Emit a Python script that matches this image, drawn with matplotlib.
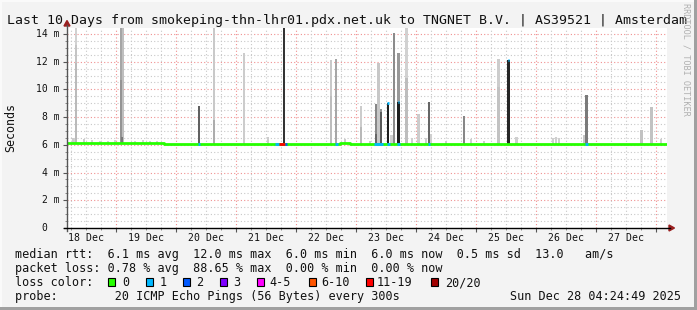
import numpy as np
import matplotlib
matplotlib.use('Agg')
import matplotlib.pyplot as plt
from matplotlib.patches import Rectangle, Polygon
from matplotlib.lines import Line2D
from matplotlib import transforms

W, H = 697, 310
MONO = 'DejaVu Sans Mono'

# ---------------- data ----------------
title = "Last 10 Days from smokeping-thn-lhr01.pdx.net.uk to TNGNET B.V. | AS39521 | Amsterdam"
start_hour = 4 + 24 / 60 + 49 / 3600          # graph starts Dec 18 04:24:49, spans 10 days
x_labels = ["18 Dec", "19 Dec", "20 Dec", "21 Dec", "22 Dec",
            "23 Dec", "24 Dec", "25 Dec", "26 Dec", "27 Dec"]
y_ticks = [0, 2, 4, 6, 8, 10, 12, 14]
y_labels = ["0", "2 m", "4 m", "6 m", "8 m", "10 m", "12 m", "14 m"]
y_max = 14.43

# median rtt (ms), step values, x in days since start
median_day = [0.0, 0.68, 0.77, 1.35, 1.55, 1.62, 2.13, 2.5, 3.0, 3.4, 3.7, 4.2,
              4.55, 4.72, 5.3, 6.0, 6.5, 7.0, 7.5, 8.0, 8.5, 9.0, 9.5, 10.0]
median_ms = [6.12, 6.16, 6.12, 6.15, 6.12, 6.05, 6.07, 6.08, 6.09, 6.07, 6.08, 6.07,
             6.11, 6.07, 6.06, 6.07, 6.06, 6.07, 6.08, 6.06, 6.08, 6.06, 6.08, 6.07]

# smoke (ping spread) columns: day, top (ms), darkness 0..1
smoke_day = [0.100, 0.133, 0.150, 0.150, 0.150, 0.283,
             0.417, 0.550, 0.683, 0.800, 1.133, 1.267, 1.383, 1.500,
             0.900, 0.933, 0.900, 0.917,
             2.200, 2.450, 2.450, 2.950, 3.350, 3.617,
             4.400, 4.400, 4.483, 4.633, 4.900, 4.900, 5.050,
             5.150, 5.150, 5.192, 5.233, 5.233, 5.350, 5.408, 5.450,
             5.525, 5.525, 5.658, 5.658, 5.750, 5.858, 5.983, 6.033, 6.067,
             6.317, 6.617, 6.733, 6.950, 7.192, 7.192, 7.358, 7.492,
             8.100, 8.150, 8.200, 8.617, 8.658, 9.575, 9.742, 9.900]
smoke_top = [6.5, 6.4, 14.45, 13.2, 11.9, 6.4,
             6.35, 6.3, 6.3, 6.35, 6.3, 6.35, 6.3, 6.3,
             14.45, 14.45, 10.7, 6.6,
             8.8, 14.45, 7.8, 12.6, 6.6, 14.45,
             12.1, 9.5, 12.2, 6.4, 8.8, 7.3, 6.3,
             8.95, 6.8, 11.9, 8.6, 8.4, 9.0, 6.7, 14.1,
             12.6, 9.1, 14.45, 10.8, 6.5, 8.2, 6.5, 9.1, 6.8,
             6.3, 8.1, 6.4, 6.3, 12.2, 10.2, 12.1, 6.6,
             6.5, 6.6, 6.5, 6.7, 9.6, 7.1, 8.7, 6.4]
smoke_dark = [0.20, 0.18, 0.18, 0.23, 0.27, 0.20,
              0.17, 0.17, 0.17, 0.17, 0.17, 0.17, 0.17, 0.17,
              0.35, 0.25, 0.42, 0.52,
              0.62, 0.21, 0.32, 0.20, 0.20, 0.80,
              0.21, 0.26, 0.35, 0.20, 0.20, 0.28, 0.20,
              0.47, 0.60, 0.22, 0.42, 0.65, 0.88, 0.19, 0.45,
              0.40, 0.88, 0.18, 0.26, 0.19, 0.20, 0.19, 0.60, 0.19,
              0.19, 0.47, 0.19, 0.19, 0.20, 0.24, 0.85, 0.19,
              0.19, 0.19, 0.19, 0.22, 0.52, 0.24, 0.24, 0.19]

# loss coloured parts of the median line: start day, end day, loss class index
loss_start = [2.183, 3.467, 3.533, 3.633, 4.467, 5.117, 5.333, 5.500, 6.017, 8.633]
loss_end = [2.217, 3.533, 3.633, 3.667, 4.517, 5.267, 5.383, 5.550, 6.050, 8.683]
loss_class = [1, 1, 6, 2, 1, 1, 1, 1, 1, 1]
# median excursions (short bins with high median)
cap_day = [5.350, 5.525, 7.358]
cap_ms = [9.0, 9.1, 12.1]
cap_class = [1, 1, 1]

loss_labels = ["0", "1", "2", "3", "4-5", "6-10", "11-19", "20/20"]
loss_colors = ["#26ff00", "#00b8ff", "#0059ff", "#7e00ff",
               "#ff00ff", "#ff5500", "#ff0000", "#a10000"]

stats_rtt = "median rtt:  6.1 ms avg  12.0 ms max  6.0 ms min  6.0 ms now  0.5 ms sd  13.0   am/s"
stats_loss = "packet loss: 0.78 % avg  88.65 % max  0.00 % min  0.00 % now"
probe_text = "probe:        20 ICMP Echo Pings (56 Bytes) every 300s"
stamp_text = "Sun Dec 28 04:24:49 2025"

# ---------------- drawing ----------------
def fx(x):
    return x / W

def fy(y):
    return 1 - y / H

fig = plt.figure(figsize=(W / 100, H / 100), dpi=100, facecolor='#f3f3f3')
ax = fig.add_axes([fx(67), fy(228), 600 / W, 200 / H])
ax.set_facecolor('white')
ax.set_xlim(0, 10)
ax.set_ylim(0, y_max)
for s in ax.spines.values():
    s.set_visible(False)

first_midnight = (24 - start_hour) / 24
six_hours = first_midnight + 0.25 * np.arange(-4, 40)
six_hours = six_hours[(six_hours > 0) & (six_hours < 10)]
midnights = first_midnight + np.arange(0, 10)
midnights = midnights[midnights < 10]

# grid
for v in np.arange(0.5, y_max, 0.5):
    major = abs(v / 2 - round(v / 2)) < 1e-6
    ax.axhline(v, color='#f09090' if major else '#c8c8c8', lw=0.8,
               ls=(0, (1, 2)), zorder=0)
for i, v in enumerate(six_hours):
    major = np.min(np.abs(midnights - v)) < 1e-6
    ax.axvline(v, color='#f09090' if major else '#c8c8c8', lw=0.8,
               ls=(0, (1, 2)), zorder=0)

# smoke
base = 6.05
for d, t, k in zip(smoke_day, smoke_top, smoke_dark):
    g = 1 - k
    ax.bar(d, t - base, bottom=base, width=2.8 / 60, color=(g, g, g),
           linewidth=0, zorder=2)

# median line
ax.step(median_day, median_ms, where='post', color=loss_colors[0], lw=2, zorder=4)

def median_at(d):
    i = np.searchsorted(median_day, d, side='right') - 1
    return median_ms[max(i, 0)]

for s, e, c in zip(loss_start, loss_end, loss_class):
    y = median_at(s)
    ax.plot([s, e], [y, y], color=loss_colors[c], lw=2, solid_capstyle='butt', zorder=5)
for d, m, c in zip(cap_day, cap_ms, cap_class):
    ax.plot([d - 0.014, d + 0.014], [m, m], color=loss_colors[c], lw=2,
            solid_capstyle='butt', zorder=5)

# ticks
ax.set_yticks(y_ticks[1:] + [0])
ax.set_yticklabels([])
ax.set_yticks(np.arange(0, y_max, 0.5), minor=True)
ax.set_xticks(midnights)
ax.set_xticklabels([])
ax.set_xticks(six_hours, minor=True)
ax.tick_params(which='major', length=3, width=0.8, color='#555555', direction='out')
ax.tick_params(which='minor', length=1.5, width=0.6, color='#777777', direction='out')

# tick labels
bt = transforms.blended_transform_factory(ax.transData, fig.transFigure)
noons = first_midnight - 0.5 + np.arange(len(x_labels))
for xv, lab in zip(noons, x_labels):
    ax.text(xv, fy(240.7), lab, transform=bt, ha='center', va='baseline',
            family=MONO, fontsize=7.1, color='#111111')
bt2 = transforms.blended_transform_factory(fig.transFigure, ax.transData)
for yv, lab in zip(y_ticks, y_labels):
    xr = 47 if lab == "0" else 59.5
    ax.text(fx(xr), yv, lab, transform=bt2, ha='right', va='center',
            family=MONO, fontsize=7.0, color='#111111')

# axis lines with arrows
fig.add_artist(Line2D([fx(67), fx(67)], [fy(231), fy(25)], color='#555555', lw=1))
fig.add_artist(Line2D([fx(64), fx(670)], [fy(228), fy(228)], color='black', lw=1))
fig.add_artist(Polygon([(fx(67), fy(20.5)), (fx(64), fy(26)), (fx(70), fy(26))],
                       closed=True, color='#9a2020', transform=fig.transFigure))
fig.add_artist(Polygon([(fx(674.5), fy(228)), (fx(669), fy(225)), (fx(669), fy(231))],
                       closed=True, color='#9a2020', transform=fig.transFigure))

# texts
fig.text(fx(7), fy(24), title, ha='left', va='baseline', family=MONO,
         fontsize=9.5, color='#111111')
fig.text(fx(11), fy(127), "Seconds", rotation=90, ha='center', va='center',
         family=MONO, fontsize=8.4, color='#111111')
fig.text(fx(686), fy(3), "RRDTOOL / TOBI OETIKER", rotation=270, ha='center', va='top',
         family=MONO, fontsize=6.1, color='#b0b0b0')

lx = fx(15)
fig.text(lx, fy(258), stats_rtt, ha='left', va='baseline', family=MONO, fontsize=8.5, color='#111111')
fig.text(lx, fy(272), stats_loss, ha='left', va='baseline', family=MONO, fontsize=8.5, color='#111111')
fig.text(lx, fy(286), "loss color:", ha='left', va='baseline', family=MONO, fontsize=8.5, color='#111111')
fig.text(lx, fy(300), probe_text, ha='left', va='baseline', family=MONO, fontsize=8.5, color='#111111')
fig.text(fx(681), fy(300), stamp_text, ha='right', va='baseline', family=MONO, fontsize=8.5, color='#111111')

box_x = [108, 145.5, 183, 219.5, 256.5, 309, 365.5, 430.5]
lab_x = [122.5, 159.5, 196.5, 233, 269.5, 321.5, 376.5, 445.5]
for bx, tx, lab, col in zip(box_x, lab_x, loss_labels, loss_colors):
    fig.add_artist(Rectangle((fx(bx), fy(285.5)), 7 / W, 8 / H, transform=fig.transFigure,
                             facecolor=col, edgecolor='black', lw=0.8))
    fig.text(fx(tx), fy(286), lab, ha='left', va='baseline', family=MONO,
             fontsize=8.5, color='#111111')

# frame shading
fig.add_artist(Rectangle((fx(694), 0), 3 / W, 1, transform=fig.transFigure,
                         facecolor='#a0a0a0', edgecolor='none'))
fig.add_artist(Rectangle((0, 0), 1, 3 / H, transform=fig.transFigure,
                         facecolor='#a0a0a0', edgecolor='none'))
fig.add_artist(Rectangle((0, fy(2)), fx(694), 2 / H, transform=fig.transFigure,
                         facecolor='#fafafa', edgecolor='none'))
fig.add_artist(Rectangle((0, 3 / H), 2 / W, 1, transform=fig.transFigure,
                         facecolor='#fafafa', edgecolor='none'))

fig.savefig('out.png', dpi=100, facecolor=fig.get_facecolor())
